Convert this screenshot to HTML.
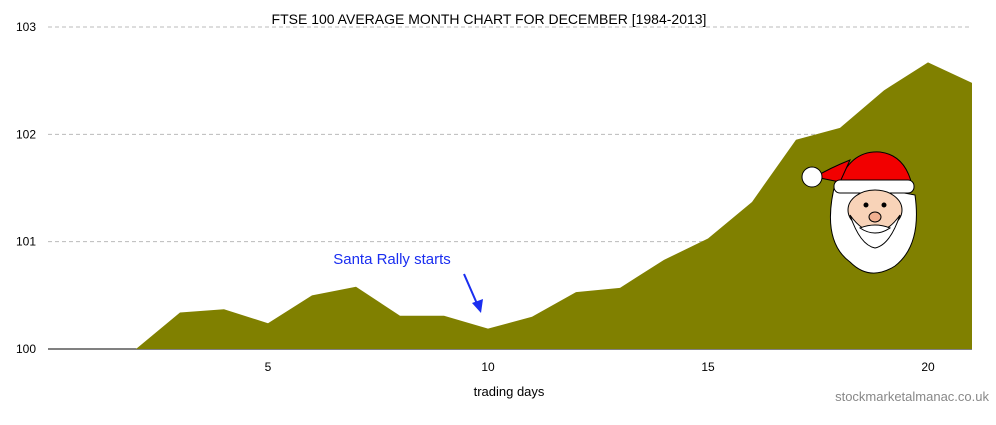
<!DOCTYPE html>
<html><head><meta charset="utf-8"><style>
body{margin:0;background:#fff;}
svg text{font-family:"Liberation Sans",sans-serif;}
</style></head><body>
<svg id="chart" width="996" height="420" viewBox="0 0 996 420">
<text x="489" y="24" font-size="14" text-anchor="middle" fill="#000">FTSE 100 AVERAGE MONTH CHART FOR DECEMBER [1984-2013]</text>
<g id="grid"></g>
<g id="area"></g>
<g id="xticks"></g>
<text x="509" y="396" font-size="13" text-anchor="middle" fill="#000">trading days</text>
<text x="989" y="401" font-size="13" text-anchor="end" fill="#888">stockmarketalmanac.co.uk</text>
<text x="392" y="264" font-size="15" text-anchor="middle" fill="#1a2ef0">Santa Rally starts</text>
<g>
<line x1="464" y1="274" x2="478" y2="306" stroke="#1a2ef0" stroke-width="2"/>
<polygon points="481,313 472,303 483,299" fill="#1a2ef0"/>
</g>
<g stroke="#000" stroke-width="1">
<path d="M836,180 Q820,240 850,262 Q870,282 895,266 Q922,245 915,195 Z" fill="#fff"/>
<path d="M838,185 Q850,150 880,152 Q905,155 912,185 Z" fill="#f20000"/>
<path d="M850,160 Q830,168 815,177 L840,182 Z" fill="#f20000"/>
<circle cx="812" cy="177" r="10" fill="#fff"/>
<rect x="834" y="180" width="80" height="13" rx="6" fill="#fff"/>
<ellipse cx="875" cy="210" rx="27" ry="20" fill="#f8d3b8"/>
<path d="M850,215 Q860,245 875,248 Q890,245 900,215 Q888,232 875,232 Q862,232 850,215Z" fill="#fff"/>
<circle cx="866" cy="205" r="2" fill="#000"/><circle cx="884" cy="205" r="2" fill="#000"/>
<ellipse cx="875" cy="217" rx="6" ry="5" fill="#f0b090"/>
<path d="M860,228 Q875,222 890,228 Q875,238 860,228Z" fill="#fff"/>
</g>
</svg>
<script>
const days=[0,1,2,3,4,5,6,7,8,9,10,11,12,13,14,15,16,17,18,19,20,21];
const values=[100,100,100,100.34,100.37,100.24,100.5,100.58,100.31,100.31,100.19,100.3,100.53,100.57,100.83,101.03,101.37,101.95,102.06,102.41,102.67,102.48];
const yTicks=[100,101,102,103];
const xTicks=[5,10,15,20];
const NS="http://www.w3.org/2000/svg";
function xs(d){return 48+(d/21)*924;}
function ys(v){return 349-(v-100)*107.33;}
const grid=document.getElementById('grid');
yTicks.forEach(t=>{
 const l=document.createElementNS(NS,'line');
 l.setAttribute('x1',48);l.setAttribute('x2',972);l.setAttribute('y1',ys(t));l.setAttribute('y2',ys(t));
 l.setAttribute('stroke',t===100?'#000':'#bbb');l.setAttribute('stroke-dasharray',t===100?'':'4,3');
 
 
 grid.appendChild(l);
 const tx=document.createElementNS(NS,'text');
 tx.setAttribute('x',36);tx.setAttribute('y',ys(t)+4);tx.setAttribute('font-size','12');tx.setAttribute('text-anchor','end');
 tx.textContent=t;
 
 
 grid.appendChild(tx);
});
const pts=days.map((d,i)=>xs(d)+','+ys(values[i]));
pts.push(xs(21)+','+ys(100));pts.push(xs(0)+','+ys(100));
const poly=document.createElementNS(NS,'polygon');
poly.setAttribute('points',pts.join(' '));poly.setAttribute('fill','#808000');


document.getElementById('area').appendChild(poly);
const xg=document.getElementById('xticks');
xTicks.forEach(t=>{
 const tx=document.createElementNS(NS,'text');
 tx.setAttribute('x',xs(t));tx.setAttribute('y',371);tx.setAttribute('font-size','12');tx.setAttribute('text-anchor','middle');
 tx.textContent=t;
 
 
 xg.appendChild(tx);
});
</script>
</body></html>
